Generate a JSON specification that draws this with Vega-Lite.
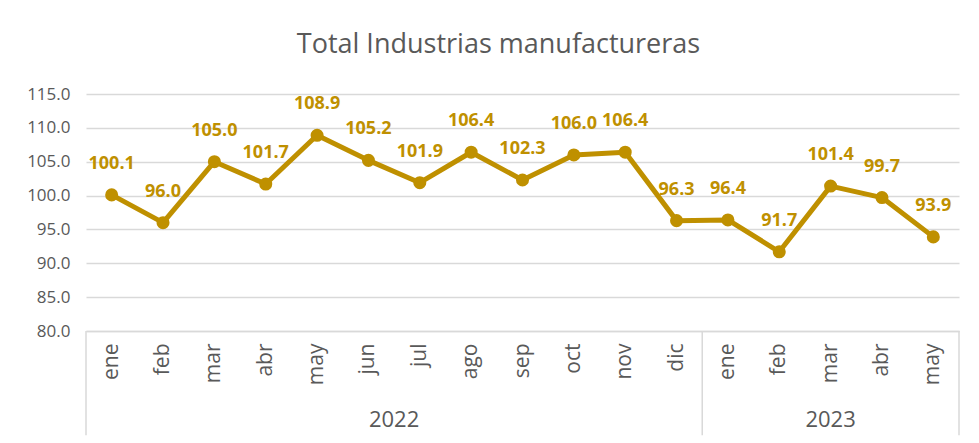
{
  "$schema": "https://vega.github.io/schema/vega-lite/v6.json",
  "autosize": {"type": "none"},
  "width": 873,
  "height": 237,
  "padding": {"left": 86, "top": 94, "right": 20, "bottom": 112},
  "background": "white",
  "title": {
    "text": "Total Industrias manufactureras",
    "font": "Open Sans",
    "fontSize": 27,
    "fontWeight": "normal",
    "color": "#595959",
    "anchor": "middle",
    "dx": -24,
    "offset": 26
  },
  "config": {
    "view": {"stroke": null},
    "font": "Open Sans",
    "axisY": {
      "values": [80, 85, 90, 95, 100, 105, 110, 115],
      "format": ".1f",
      "labelFont": "Open Sans",
      "labelFontSize": 17,
      "labelColor": "#595959",
      "labelPadding": 16,
      "labelOverlap": false,
      "ticks": false,
      "domain": false,
      "grid": true,
      "gridColor": "#D9D9D9",
      "gridWidth": 1.5,
      "title": null
    }
  },
  "datasets": {
    "serie": [
      {"periodo": "ene 2022", "indice": 100.1},
      {"periodo": "feb 2022", "indice": 96.0},
      {"periodo": "mar 2022", "indice": 105.0},
      {"periodo": "abr 2022", "indice": 101.7},
      {"periodo": "may 2022", "indice": 108.9},
      {"periodo": "jun 2022", "indice": 105.2},
      {"periodo": "jul 2022", "indice": 101.9},
      {"periodo": "ago 2022", "indice": 106.4},
      {"periodo": "sep 2022", "indice": 102.3},
      {"periodo": "oct 2022", "indice": 106.0},
      {"periodo": "nov 2022", "indice": 106.4},
      {"periodo": "dic 2022", "indice": 96.3},
      {"periodo": "ene 2023", "indice": 96.4},
      {"periodo": "feb 2023", "indice": 91.7},
      {"periodo": "mar 2023", "indice": 101.4},
      {"periodo": "abr 2023", "indice": 99.7},
      {"periodo": "may 2023", "indice": 93.9}
    ],
    "inicios": [
      {"periodo": "ene 2022"},
      {"periodo": "ene 2023"}
    ],
    "fin": [
      {"periodo": "may 2023"}
    ],
    "anio2022": [
      {"periodo": "jun 2022", "anio": "2022"}
    ],
    "anio2023": [
      {"periodo": "mar 2023", "anio": "2023"}
    ]
  },
  "layer": [
    {
      "data": {"name": "serie"},
      "mark": {"type": "line", "color": "#BF9000", "strokeWidth": 5, "strokeJoin": "round", "strokeCap": "round"},
      "encoding": {
        "x": {
          "field": "periodo",
          "type": "ordinal",
          "sort": null,
          "scale": {"type": "band", "paddingInner": 0, "paddingOuter": 0},
          "axis": {
            "title": null,
            "labelAngle": -90,
            "labelExpr": "split(datum.value, ' ')[0]",
            "labelFont": "Open Sans",
            "labelFontSize": 21,
            "labelColor": "#595959",
            "labelPadding": 12,
            "labelOverlap": false,
            "ticks": false,
            "domainColor": "#D9D9D9",
            "domainWidth": 1.5,
            "grid": false
          }
        },
        "y": {
          "field": "indice",
          "type": "quantitative",
          "scale": {"domain": [80, 115], "nice": false, "zero": false},
          "axis": {"values": [80, 85, 90, 95, 100, 105, 110, 115], "title": null}
        }
      }
    },
    {
      "data": {"name": "serie"},
      "mark": {"type": "point", "filled": true, "opacity": 1, "color": "#BF9000", "size": 170},
      "encoding": {
        "x": {"field": "periodo", "type": "ordinal", "sort": null},
        "y": {"field": "indice", "type": "quantitative", "axis": {"values": [80, 85, 90, 95, 100, 105, 110, 115], "title": null}}
      }
    },
    {
      "data": {"name": "serie"},
      "mark": {"type": "text", "color": "#BF9000", "fontWeight": "bold", "fontSize": 18, "font": "Open Sans", "dy": -31},
      "encoding": {
        "x": {"field": "periodo", "type": "ordinal", "sort": null},
        "y": {"field": "indice", "type": "quantitative", "axis": {"values": [80, 85, 90, 95, 100, 105, 110, 115], "title": null}},
        "text": {"field": "indice", "type": "quantitative", "format": ".1f"}
      }
    },
    {
      "data": {"name": "inicios"},
      "mark": {"type": "rule", "color": "#D9D9D9", "strokeWidth": 1.5},
      "encoding": {
        "x": {"field": "periodo", "type": "ordinal", "sort": null, "bandPosition": 0},
        "y": {"datum": 80, "axis": {"values": [80, 85, 90, 95, 100, 105, 110, 115], "title": null}},
        "y2": {"datum": 64.6}
      }
    },
    {
      "data": {"name": "fin"},
      "mark": {"type": "rule", "color": "#D9D9D9", "strokeWidth": 1.5},
      "encoding": {
        "x": {"field": "periodo", "type": "ordinal", "sort": null, "bandPosition": 1},
        "y": {"datum": 80, "axis": {"values": [80, 85, 90, 95, 100, 105, 110, 115], "title": null}},
        "y2": {"datum": 64.6}
      }
    },
    {
      "data": {"name": "anio2022"},
      "mark": {"type": "text", "color": "#595959", "fontSize": 22, "font": "Open Sans", "baseline": "middle"},
      "encoding": {
        "x": {"field": "periodo", "type": "ordinal", "sort": null, "bandPosition": 1},
        "y": {"datum": 66.9, "axis": {"values": [80, 85, 90, 95, 100, 105, 110, 115], "title": null}},
        "text": {"field": "anio", "type": "nominal"}
      }
    },
    {
      "data": {"name": "anio2023"},
      "mark": {"type": "text", "color": "#595959", "fontSize": 22, "font": "Open Sans", "baseline": "middle"},
      "encoding": {
        "x": {"field": "periodo", "type": "ordinal", "sort": null, "bandPosition": 0.5},
        "y": {"datum": 66.9, "axis": {"values": [80, 85, 90, 95, 100, 105, 110, 115], "title": null}},
        "text": {"field": "anio", "type": "nominal"}
      }
    }
  ]
}
